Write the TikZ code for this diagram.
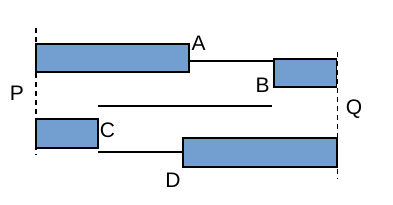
\documentclass[tikz,border=0pt]{standalone}
\usepackage{fontspec}
\setmainfont{Liberation Sans}
\definecolor{barblue}{RGB}{114,159,207}
\tikzset{
  bar/.style={draw,fill=barblue,line width=1.4pt,inner sep=0pt,outer sep=0pt,anchor=north west},
  lbl/.style={font=\fontsize{21}{25}\selectfont,inner sep=0pt,anchor=base},
  edge/.style={dash pattern=on 5pt off 4pt,line width=1.4pt},
  link/.style={line width=1.4pt}
}
\begin{document}
\begin{tikzpicture}[x=1pt,y=-1pt]
\useasboundingbox (0,0) rectangle (393,204);
% boundaries
\coordinate (Ptop) at (36,28);
\coordinate (Pbot) at (36,155);
\coordinate (Qtop) at (337.5,52);
\coordinate (Qbot) at (337.5,179);
\draw[edge] (Ptop) -- (Pbot);
\draw[edge] (Qtop) -- (Qbot);
% bars
\node[bar,minimum width=153pt,minimum height=28pt] (barA) at (36,44) {};
\node[bar,minimum width=62.5pt,minimum height=28pt] (barB) at (274,59) {};
\node[bar,minimum width=62pt,minimum height=29pt] (barC) at (36,119) {};
\node[bar,minimum width=154pt,minimum height=29pt] (barD) at (183,138) {};
% links
\draw[link] ([yshift=-17pt]barA.north east) -- ([yshift=-2pt]barB.north west);
\draw[link] ([yshift=-4pt]barC.south east) -- ([yshift=-14pt]barD.north west);
\coordinate (midL) at (98,106);
\coordinate (midR) at (272,106);
\draw[link] (midL) -- (midR);
% labels
\node[lbl] (labA) at (198.5,50.7) {A};
\node[lbl] (labB) at (262.5,92.7) {B};
\node[lbl] (labC) at (107.5,137.7) {C};
\node[lbl] (labD) at (173,187) {D};
\node[lbl] (labP) at (17,100) {P};
\node[lbl] (labQ) at (354,114.5) {Q};
\end{tikzpicture}
\end{document}
